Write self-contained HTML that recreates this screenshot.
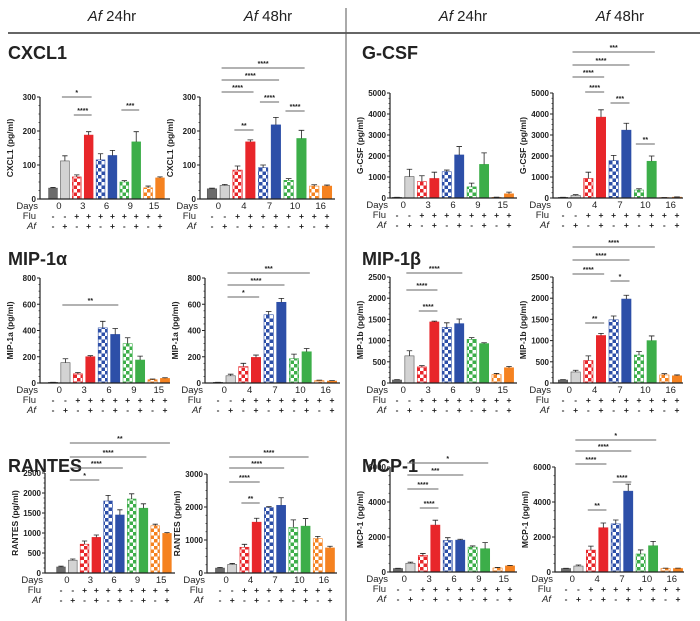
<!DOCTYPE html>
<html><head><meta charset="utf-8">
<style>
html,body{margin:0;padding:0;background:#fff;}
svg{display:block;font-family:"Liberation Sans",sans-serif;}
</style></head>
<body>
<svg id="fig" width="700" height="621" viewBox="0 0 700 621" xmlns="http://www.w3.org/2000/svg">
<defs id="defs"></defs>
<text x="112" y="21" text-anchor="middle" font-size="15" fill="#222"><tspan font-style="italic">Af</tspan> 24hr</text>
<text x="268" y="21" text-anchor="middle" font-size="15" fill="#222"><tspan font-style="italic">Af</tspan> 48hr</text>
<text x="463" y="21" text-anchor="middle" font-size="15" fill="#222"><tspan font-style="italic">Af</tspan> 24hr</text>
<text x="620" y="21" text-anchor="middle" font-size="15" fill="#222"><tspan font-style="italic">Af</tspan> 48hr</text>
<line x1="8" y1="33" x2="700" y2="33" stroke="#333" stroke-width="1.5"/>
<line x1="346" y1="8" x2="346" y2="621" stroke="#555" stroke-width="1"/>
<text x="8" y="59" font-size="18" font-weight="bold" fill="#222">CXCL1</text>
<text x="362" y="59" font-size="18" font-weight="bold" fill="#222">G-CSF</text>
<text x="8" y="265" font-size="18" font-weight="bold" fill="#222">MIP-1α</text>
<text x="362" y="265" font-size="18" font-weight="bold" fill="#222">MIP-1β</text>
<text x="8" y="472" font-size="18" font-weight="bold" fill="#222">RANTES</text>
<text x="362" y="472" font-size="18" font-weight="bold" fill="#222">MCP-1</text>
<g id="charts"></g>
</svg>
<script>
// ---- data ----
const cxcl1_24_means=[32,112,65,188,115,128,50,168,33,62];
const cxcl1_24_errs=[2,15,6,10,18,15,4,30,5,3];
const cxcl1_24_sig=[[1,3,97,'*'],[2,3,115,'****'],[6,7,110,'***']];
const cxcl1_48_means=[30,40,85,168,92,218,55,178,38,38];
const cxcl1_48_errs=[2,3,12,6,8,22,5,24,4,3];
const cxcl1_48_sig=[[1,7,68,'****'],[1,5,80,'****'],[1,3,92,'****'],[2,3,130,'**'],[4,5,102,'****'],[6,7,111,'****']];
const cxcl1_ticks=[0,100,200,300];
const gcsf_24_means=[30,1020,780,930,1250,2050,530,1600,30,200];
const gcsf_24_errs=[5,350,280,300,80,400,180,550,10,80];
const gcsf_24_sig=[];
const gcsf_48_means=[30,120,930,3850,1780,3230,380,1750,20,40];
const gcsf_48_errs=[5,40,300,350,250,330,60,250,5,10];
const gcsf_48_sig=[[1,7,52,'***'],[1,5,65,'****'],[1,3,77,'****'],[2,3,92,'****'],[4,5,103,'***'],[6,7,144,'**']];
const gcsf_ticks=[0,1000,2000,3000,4000,5000];
const mip1a_24_means=[5,155,70,200,420,370,300,175,25,35];
const mip1a_24_errs=[1,30,10,8,50,45,45,30,5,5];
const mip1a_24_sig=[[1,5,305,'**']];
const mip1a_48_means=[5,55,125,195,520,615,185,238,18,15];
const mip1a_48_errs=[1,12,25,18,25,30,35,25,4,3];
const mip1a_48_sig=[[1,7,273,'***'],[1,5,285,'****'],[1,3,297,'*']];
const mip1a_ticks=[0,200,400,600,800];
const mip1b_24_means=[70,640,380,1440,1310,1400,1030,930,200,360];
const mip1b_24_errs=[10,120,30,20,110,110,40,20,25,30];
const mip1b_24_sig=[[1,5,273,'****'],[1,3,290,'****'],[2,3,311,'****']];
const mip1b_48_means=[70,260,530,1120,1490,1980,660,1000,190,170];
const mip1b_48_errs=[10,40,110,50,90,90,80,110,30,20];
const mip1b_48_sig=[[1,7,247,'****'],[1,5,260,'****'],[1,3,274,'****'],[2,3,323,'**'],[4,5,281,'*']];
const mip1b_ticks=[0,500,1000,1500,2000,2500];
const rantes_24_means=[150,320,720,890,1800,1450,1850,1620,1180,990];
const rantes_24_errs=[20,30,80,60,140,130,130,110,40,20];
const rantes_24_sig=[[1,9,443,'**'],[1,7,457,'****'],[1,5,468,'****'],[1,3,480,'*']];
const rantes_48_means=[150,260,780,1540,1980,2050,1380,1420,1040,760];
const rantes_48_errs=[20,30,90,120,30,230,230,230,70,50];
const rantes_48_sig=[[1,7,457,'****'],[1,5,468,'****'],[1,3,482,'****'],[2,3,503,'**']];
const rantes_24_ticks=[0,500,1000,1500,2000,2500];
const rantes_48_ticks=[0,1000,2000,3000];
const mcp1_24_means=[200,500,950,2680,1800,1820,1420,1330,230,350];
const mcp1_24_errs=[10,60,110,280,160,50,70,350,30,30];
const mcp1_24_sig=[[1,7,463,'*'],[1,5,475,'***'],[1,3,489,'****'],[2,3,508,'****']];
const mcp1_48_means=[200,340,1250,2530,2750,4620,1030,1500,200,200];
const mcp1_48_errs=[10,60,230,270,220,400,230,250,20,20];
const mcp1_48_sig=[[1,7,440,'*'],[1,5,451,'****'],[1,3,464,'****'],[2,3,510,'**'],[4,5,482,'****']];
const mcp1_ticks=[0,2000,4000,6000];
const days_24=['0','3','6','9','15'];
const days_48=['0','4','7','10','16'];
const flu_signs=['-','-','+','+','+','+','+','+','+','+'];
const af_signs=['-','+','-','+','-','+','-','+','-','+'];

// ---- styles ----
const NS='http://www.w3.org/2000/svg';
const colors=['#e8262a','#2d4fa8','#3cae49','#f58220'];
const defs=document.getElementById('defs');
colors.forEach((c,i)=>{
  const p=document.createElementNS(NS,'pattern');
  p.setAttribute('id','chk'+i);p.setAttribute('width','7');p.setAttribute('height','7');p.setAttribute('patternUnits','userSpaceOnUse');
  p.innerHTML=`<rect width="7" height="7" fill="#fff"/><rect width="3.5" height="3.5" fill="${c}"/><rect x="3.5" y="3.5" width="3.5" height="3.5" fill="${c}"/>`;
  defs.appendChild(p);
});
const fills=['#6b6b6b','#d3d3d3','url(#chk0)',colors[0],'url(#chk1)',colors[1],'url(#chk2)',colors[2],'url(#chk3)',colors[3]];

function el(parent,tag,attrs,text){const e=document.createElementNS(NS,tag);for(const k in attrs)e.setAttribute(k,attrs[k]);if(text!==undefined)e.textContent=text;parent.appendChild(e);return e;}

function panel(name,g,means,errs,sig,ticks,days,label){
  const root=document.getElementById('charts');
  const gr=el(root,'g',{});
  
  
  const ymax=ticks[ticks.length-1];
  const yS=v=>g.zero-(v/ymax)*(g.zero-g.top);
  const step=(g.b9-g.b0)/9;
  const xS=i=>g.b0+i*step;
  const bw=step*0.74;
  means.forEach((m,i)=>{
    const r=el(gr,'rect',{x:xS(i)-bw/2,y:yS(m),width:bw,height:g.zero-yS(m),fill:fills[i],stroke:i<2?'#555':colors[Math.floor((i-2)/2)],'stroke-width':0.6});
    
    
    const e=errs[i];
    const ep=el(gr,'path',{d:`M${xS(i)} ${yS(m)}V${yS(m+e)}M${xS(i)-bw*0.3} ${yS(m+e)}H${xS(i)+bw*0.3}`,stroke:'#222','stroke-width':0.8,fill:'none'});
    
    
  });
  const ax=el(gr,'path',{d:`M${g.ax} ${g.top}V${g.zero}H${g.end}`,stroke:'#222','stroke-width':1.2,fill:'none'});
  
  
  ticks.forEach((t,k)=>{
    el(gr,'line',{x1:g.ax-3,x2:g.ax,y1:yS(t),y2:yS(t),stroke:'#222','stroke-width':1});
    if(k<ticks.length-1){for(let s=1;s<4;s++){const v=t+(ticks[k+1]-t)*s/4;el(gr,'line',{x1:g.ax-1.5,x2:g.ax,y1:yS(v),y2:yS(v),stroke:'#222','stroke-width':0.7});}}
    const tl=el(gr,'text',{x:g.ax-4,y:yS(t)+3,'text-anchor':'end','font-size':8,'font-weight':'bold',fill:'#222'},t);
    
    
  });
  const yl=el(gr,'text',{transform:`translate(${g.ax-27},${(g.top+g.zero)/2}) rotate(-90)`,'text-anchor':'middle','font-size':8.5,'font-weight':'bold',fill:'#222'},label);
  
  
  const r0=g.zero+9,r1=r0+10,r2=r1+10;
  const dl=el(gr,'text',{x:g.ax-2,y:r0+1,'text-anchor':'end','font-size':9.5,fill:'#222'},'Days');
  
  
  const fl=el(gr,'text',{x:g.ax-4,y:r1+1,'text-anchor':'end','font-size':9.5,fill:'#222'},'Flu');
  
  
  const al=el(gr,'text',{x:g.ax-4,y:r2+1,'text-anchor':'end','font-size':9.5,'font-style':'italic',fill:'#222'},'Af');
  
  
  days.forEach((d,k)=>{
    const t=el(gr,'text',{x:(xS(2*k)+xS(2*k+1))/2,y:r0+1,'text-anchor':'middle','font-size':9.5,fill:'#222'},d);
    
    
  });
  for(let i=0;i<10;i++){
    el(gr,'text',{x:xS(i),y:r1+1,'text-anchor':'middle','font-size':8.5,'font-weight':'bold',fill:'#222'},flu_signs[i]);
    el(gr,'text',{x:xS(i),y:r2+1,'text-anchor':'middle','font-size':8.5,'font-weight':'bold',fill:'#222'},af_signs[i]);
  }
  sig.forEach(s=>{
    const x1=xS(s[0])-step*0.25,x2=xS(s[1])+step*0.25;
    const b=el(gr,'line',{x1:x1,x2:x2,y1:s[2],y2:s[2],stroke:'#666','stroke-width':0.9});
    
    
    el(gr,'text',{x:(x1+x2)/2,y:s[2]-2,'text-anchor':'middle','font-size':7,'font-weight':'bold',fill:'#222'},s[3]);
  });
}
const R1={top:97,zero:199},R1b={top:93,zero:198},R2={top:278,zero:383},R2b={top:277,zero:383};
panel('cxcl1-24hr-chart',{ax:40,end:170,b0:53,b9:160,...R1},cxcl1_24_means,cxcl1_24_errs,cxcl1_24_sig,cxcl1_ticks,days_24,'CXCL1 (pg/ml)');
panel('cxcl1-48hr-chart',{ax:200,end:335,b0:212,b9:327,...R1},cxcl1_48_means,cxcl1_48_errs,cxcl1_48_sig,cxcl1_ticks,days_48,'CXCL1 (pg/ml)');
panel('gcsf-24hr-chart',{ax:390,end:517,b0:397,b9:509,...R1b},gcsf_24_means,gcsf_24_errs,gcsf_24_sig,gcsf_ticks,days_24,'G-CSF (pg/ml)');
panel('gcsf-48hr-chart',{ax:553,end:683,b0:563,b9:677,...R1b},gcsf_48_means,gcsf_48_errs,gcsf_48_sig,gcsf_ticks,days_48,'G-CSF (pg/ml)');
panel('mip1a-24hr-chart',{ax:40,end:170,b0:53,b9:165,...R2},mip1a_24_means,mip1a_24_errs,mip1a_24_sig,mip1a_ticks,days_24,'MIP-1a (pg/ml)');
panel('mip1a-48hr-chart',{ax:205,end:340,b0:218,b9:332,...R2},mip1a_48_means,mip1a_48_errs,mip1a_48_sig,mip1a_ticks,days_48,'MIP-1a (pg/ml)');
panel('mip1b-24hr-chart',{ax:390,end:517,b0:397,b9:509,...R2b},mip1b_24_means,mip1b_24_errs,mip1b_24_sig,mip1b_ticks,days_24,'MIP-1b (pg/ml)');
panel('mip1b-48hr-chart',{ax:553,end:683,b0:563,b9:677,...R2b},mip1b_48_means,mip1b_48_errs,mip1b_48_sig,mip1b_ticks,days_48,'MIP-1b (pg/ml)');
panel('rantes-24hr-chart',{ax:45,end:175,b0:61,b9:167,top:473,zero:573},rantes_24_means,rantes_24_errs,rantes_24_sig,rantes_24_ticks,days_24,'RANTES (pg/ml)');
panel('rantes-48hr-chart',{ax:207,end:337,b0:220,b9:330,top:474,zero:573},rantes_48_means,rantes_48_errs,rantes_48_sig,rantes_48_ticks,days_48,'RANTES (pg/ml)');
panel('mcp1-24hr-chart',{ax:390,end:517,b0:398,b9:510,top:467,zero:572},mcp1_24_means,mcp1_24_errs,mcp1_24_sig,mcp1_ticks,days_24,'MCP-1 (pg/ml)');
panel('mcp1-48hr-chart',{ax:555,end:684,b0:566,b9:678,top:467,zero:572},mcp1_48_means,mcp1_48_errs,mcp1_48_sig,mcp1_ticks,days_48,'MCP-1 (pg/ml)');
</script>
</body></html>
